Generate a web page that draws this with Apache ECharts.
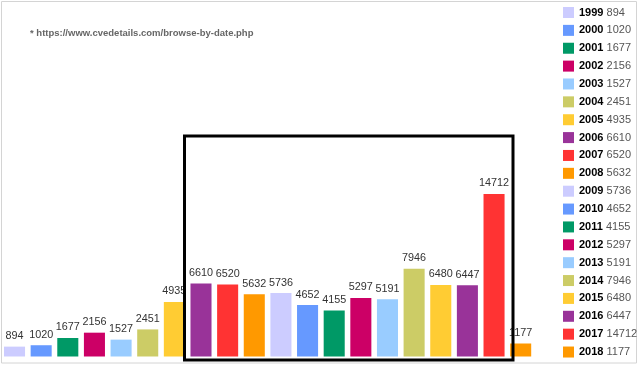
<!DOCTYPE html>
<html>
<head>
<meta charset="utf-8">
<script src="https://cdn.jsdelivr.net/npm/echarts@6/dist/echarts.min.js"></script>
<style>html,body{margin:0;padding:0;background:#fff}#c{width:640px;height:367px}</style>
</head>
<body>
<div id="c"></div>
<script>
var years = ['1999','2000','2001','2002','2003','2004','2005','2006','2007','2008','2009','2010','2011','2012','2013','2014','2015','2016','2017','2018'];
var counts = [894,1020,1677,2156,1527,2451,4935,6610,6520,5632,5736,4652,4155,5297,5191,7946,6480,6447,14712,1177];
var palette = ['#ccccff','#6699ff','#009966','#cc0066','#99ccff','#cccc66','#ffcc33','#993399','#ff3333','#ff9900'];
var note = '* https://www.cvedetails.com/browse-by-date.php';

var chart = echarts.init(document.getElementById('c'), null, {renderer:'canvas'});
var series = years.map(function(y, i){
  var d = years.map(function(_, j){ return j === i ? counts[i] : '-'; });
  return {
    name: y, type: 'bar', stack: 'all', data: d,
    barCategoryGap: '21%',
    itemStyle: { color: palette[i % palette.length] },
    label: { show: true, position: 'top', distance: 5, color: '#333',
             fontFamily: 'Liberation Sans, Arial, sans-serif', fontSize: 10.8 },
    emphasis: { disabled: true }
  };
});
var valueOf = {};
years.forEach(function(y, i){ valueOf[y] = counts[i]; });

chart.setOption({
  animation: false,
  grid: { left: 1.2, right: 106, top: 25, bottom: 10.5, containLabel: false },
  xAxis: { type: 'category', data: years, show: false },
  yAxis: { type: 'value', min: 0, max: 30000, show: false },
  legend: {
    orient: 'vertical', left: 563, top: 7, height: 360, padding: 0,
    itemWidth: 11, itemHeight: 11, itemGap: 6.87,
    icon: 'rect',
    data: years,
    formatter: function(n){ return '{y|' + n + '} {v|' + valueOf[n] + '}'; },
    textStyle: {
      fontFamily: 'Liberation Sans, Arial, sans-serif', fontSize: 11,
      rich: {
        y: { fontWeight: 'bold', color: '#000', fontSize: 11, lineHeight: 11, fontFamily: 'Liberation Sans, Arial, sans-serif' },
        v: { color: '#555', fontSize: 11, lineHeight: 11, fontFamily: 'Liberation Sans, Arial, sans-serif' }
      }
    },
    selectedMode: false
  },
  graphic: [
    { type: 'rect', shape: { x: 1.5, y: 1.5, width: 635, height: 361.5 },
      style: { fill: null, stroke: '#d4d4d4', lineWidth: 1 }, z: 0 },
    { type: 'text', left: 30, top: 28,
      style: { text: note, fill: '#666', font: 'bold 9.5px "Liberation Sans", Arial, sans-serif' } },
    { type: 'rect', shape: { x: 184.5, y: 136, width: 328.5, height: 224 },
      style: { fill: null, stroke: '#000', lineWidth: 3 }, z: 100 }
  ],
  series: series
});
</script>
</body>
</html>
